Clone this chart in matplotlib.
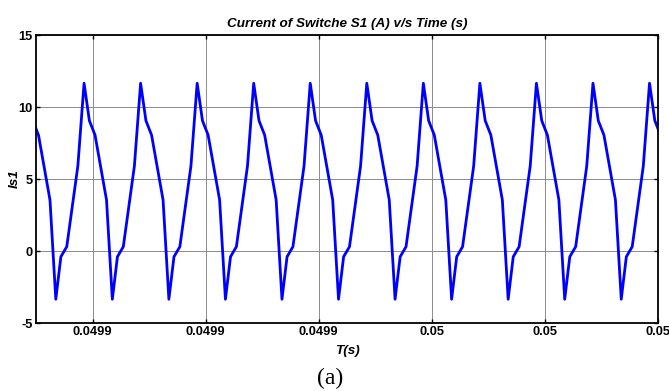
import numpy as np
import matplotlib
matplotlib.use("Agg")
import matplotlib.pyplot as plt

# peak instants of the switch current (s)
peak_times = [0.0498885, 0.0498985, 0.0499085, 0.0499185, 0.0499285, 0.0499385,
              0.0499485, 0.0499585, 0.0499685, 0.0499785, 0.0499885, 0.0499985]

# one switching cycle, measured from each peak: offset (us) and current (A)
cycle_offset_us = [0.0, 0.94, 1.94, 3.97, 5.0, 5.9, 6.94, 8.9]
cycle_current = [11.65, 9.05, 8.05, 3.55, -3.35, -0.4, 0.3, 5.9]

x_ticks = [0.0499, 0.04992, 0.04994, 0.04996, 0.04998, 0.05]
x_tick_labels = ["0.0499", "0.0499", "0.0499", "0.05", "0.05", "0.05"]
y_ticks = [-5, 0, 5, 10, 15]


def build_waveform():
    t = []
    i = []
    for p in peak_times:
        for off, val in zip(cycle_offset_us, cycle_current):
            t.append(p + off * 1e-6)
            i.append(val)
    return np.array(t), np.array(i)


def main():
    plt.rcParams["font.family"] = ["Liberation Sans", "DejaVu Sans"]

    fig = plt.figure(figsize=(6.69, 3.91), dpi=100)
    ax = fig.add_axes([36 / 669, 1 - 323 / 391, 622 / 669, 288 / 391])

    t, i = build_waveform()
    ax.plot(t, i, color="#0000ff", linewidth=2.0)

    ax.set_xlim(0.04989, 0.05)
    ax.set_ylim(-5, 15)
    ax.set_xticks(x_ticks)
    ax.set_xticklabels(x_tick_labels, fontweight="bold", fontsize=9.3)
    ax.set_yticks(y_ticks)
    ax.set_yticklabels([str(v) for v in y_ticks], fontweight="bold", fontsize=9.3)

    ax.grid(True, color="#8c8c8c", linewidth=0.7)
    ax.tick_params(direction="in", length=3, width=1, top=True, right=True, pad=2.5)
    for s in ax.spines.values():
        s.set_linewidth(1.3)

    ax.set_title("Current of Switche S1 (A) v/s Time (s)", fontsize=9.7,
                 fontweight="bold", fontstyle="italic", pad=6)
    ax.set_xlabel("T(s)", fontsize=9.7, fontweight="bold", fontstyle="italic", labelpad=5)
    ax.set_ylabel("Is1", fontsize=9.7, fontweight="bold", fontstyle="italic")
    ax.yaxis.set_label_coords(-0.024, 0.5)

    fig.text(330 / 669, 1 - 378 / 391, "(a)", ha="center", va="center",
             fontsize=17, family="Liberation Serif")

    fig.savefig("out.png", dpi=100)
    plt.close(fig)


if __name__ == "__main__":
    main()
